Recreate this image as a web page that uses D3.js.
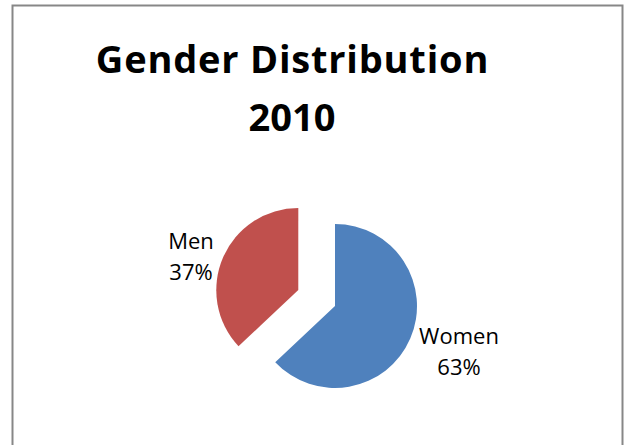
<!DOCTYPE html>
<html><head><meta charset="utf-8">
<script src="https://cdn.jsdelivr.net/npm/d3@7"></script>
<style>html,body{margin:0;padding:0;background:#fff;}svg{display:block;}</style>
</head><body>
<svg id="chart" width="624" height="445"></svg>
<script>
const categories = ["Women", "Men"];
const values = [63, 37];
const percentLabels = ["63%", "37%"];
const colors = ["#4F81BD", "#C0504D"];
const titleLines = ["Gender Distribution", "2010"];

const svg = d3.select("#chart");
svg.append("rect").attr("x", 12.5).attr("y", 5.5).attr("width", 610).attr("height", 460)
  .attr("fill", "#fff").attr("stroke", "#878787").attr("stroke-width", 2);

const title = svg.append("text").attr("text-anchor", "middle")
  .attr("font-family", "'Open Sans', sans-serif").attr("font-weight", "bold").attr("font-size", 38).attr("fill", "#000");
title.selectAll("tspan").data(titleLines).join("tspan")
  .attr("x", (d, i) => i === 0 ? 292.5 : 292).attr("y", (d, i) => i === 0 ? 73 : 131)
  .attr("letter-spacing", (d, i) => i === 0 ? 0.8 : 0)
  .text(d => d);

const cx = 335, cy = 306, r = 82, explode = 40;
const pie = d3.pie().sort(null).value(d => d.value);
const arcs = pie(categories.map((c, i) => ({ name: c, value: values[i], pct: percentLabels[i], color: colors[i] })));
const arc = d3.arc().innerRadius(0).outerRadius(r);
const g = svg.append("g").attr("transform", `translate(${cx},${cy})`);
g.selectAll("path").data(arcs).join("path")
  .attr("d", arc)
  .attr("fill", d => d.data.color)
  .attr("transform", d => {
    if (d.data.name !== "Men") return null;
    const a = (d.startAngle + d.endAngle) / 2;
    return `translate(${explode * Math.sin(a)},${-explode * Math.cos(a)})`;
  });

const labelPos = { Women: [459, 344], Men: [191, 249] };
const lab = svg.append("g").attr("font-family", "'Open Sans', sans-serif").attr("font-size", 22)
  .attr("fill", "#000").attr("text-anchor", "middle");
arcs.forEach(d => {
  const [x, y] = labelPos[d.data.name];
  const t = lab.append("text");
  t.append("tspan").attr("x", x).attr("y", y).text(d.data.name);
  t.append("tspan").attr("x", x).attr("y", y + 31).text(d.data.pct);
});
</script>
</body></html>
